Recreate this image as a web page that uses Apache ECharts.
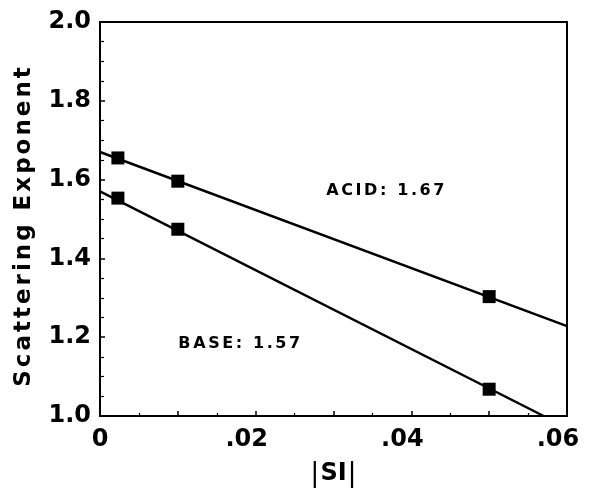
<!DOCTYPE html>
<html><head><meta charset="utf-8">
<script src="https://cdn.jsdelivr.net/npm/echarts@6/dist/echarts.min.js"></script>
<style>html,body{margin:0;padding:0;background:#fff}#c{width:589px;height:493px}</style>
</head><body><div id="c"></div>
<script>
// ---- data ----
const xTickValues = [0, 0.02, 0.04, 0.06];
const xTickLabels = ['0', '.02', '.04', '.06'];
const yTickValues = [1.0, 1.2, 1.4, 1.6, 1.8, 2.0];
const yTickLabels = ['1.0', '1.2', '1.4', '1.6', '1.8', '2.0'];
const acidX = [0.0023, 0.010, 0.050];
const acidY = [1.655, 1.596, 1.303];
const baseX = [0.0023, 0.010, 0.050];
const baseY = [1.553, 1.474, 1.068];
const acidFitX = [0, 0.060];
const acidFitY = [1.670, 1.228];
const baseFitX = [0, 0.057];
const baseFitY = [1.570, 1.000];
const noteTexts = ['ACID: 1.67', 'BASE: 1.57'];
const noteX = [0.0289, 0.0099];
const noteY = [1.571, 1.183];
const xName = '|SI|';
const yName = 'Scattering Exponent';

// ---- helpers ----
const zip = (a, b) => a.map((v, i) => [v, b[i]]);
const spaced = (s, st) => s.split('').map(c => '{' + st + '|' + c + '}').join('');
const FONT = 'DejaVu Sans';

const chart = echarts.init(document.getElementById('c'), null, {renderer: 'canvas'});
chart.setOption({
  animation: false,
  backgroundColor: '#fff',
  grid: {left: 100, right: 22, top: 22, bottom: 77, show: true, borderColor: '#000', borderWidth: 2, containLabel: false},
  xAxis: {
    type: 'value', min: 0, max: 0.06, interval: 0.01,
    name: '{b|' + xName[0] + '}{s|' + xName.slice(1, 3) + '}{b|' + xName[3] + '}',
    nameLocation: 'middle', nameGap: 44,
    nameTextStyle: {rich: {
      b: {fontFamily: FONT, fontSize: 27, fontWeight: 'normal', color: '#000'},
      s: {fontFamily: FONT, fontSize: 24, fontWeight: 'bold', color: '#000', padding: [0, 1]}
    }},
    axisLine: {show: true, lineStyle: {color: '#000', width: 2}},
    axisTick: {show: true, inside: true, length: 5, lineStyle: {color: '#000', width: 1.5}},
    minorTick: {show: true, splitNumber: 2, length: 3, lineStyle: {color: '#000', width: 1.2}},
    splitLine: {show: false},
    axisLabel: {
      margin: 12, color: '#000', fontFamily: FONT, fontWeight: 'bold', fontSize: 24,
      formatter: v => {
        const i = xTickValues.findIndex(t => Math.abs(t - v) < 1e-9);
        if (i < 0) return '';
        return i === 0 ? xTickLabels[i] : '{o|' + xTickLabels[i] + '}';
      },
      rich: {o: {fontFamily: FONT, fontWeight: 'bold', fontSize: 24, color: '#000', padding: [0, 18, 0, 0]}}
    }
  },
  yAxis: {
    type: 'value', min: 1.0, max: 2.0, interval: 0.2,
    name: spaced(yName, 'n'),
    nameLocation: 'middle', nameGap: 64, nameRotate: 90,
    nameTextStyle: {padding: [0, 16, 0, 0], rich: {
      n: {fontFamily: FONT, fontSize: 23, fontWeight: 'bold', color: '#000', padding: [0, 1.5]}
    }},
    axisLine: {show: true, lineStyle: {color: '#000', width: 2}},
    axisTick: {show: true, inside: true, length: 5, lineStyle: {color: '#000', width: 1.5}},
    minorTick: {show: true, splitNumber: 4, length: 4, lineStyle: {color: '#000', width: 1.2}},
    splitLine: {show: false},
    axisLabel: {
      margin: 9, color: '#000', fontFamily: FONT, fontWeight: 'bold', fontSize: 24,
      formatter: v => {
        const i = yTickValues.findIndex(t => Math.abs(t - v) < 1e-9);
        return i < 0 ? '' : yTickLabels[i];
      }
    }
  },
  series: [
    {type: 'line', data: zip(acidFitX, acidFitY), symbol: 'none', lineStyle: {color: '#000', width: 2.5}, z: 2},
    {type: 'line', data: zip(baseFitX, baseFitY), symbol: 'none', lineStyle: {color: '#000', width: 2.5}, z: 2},
    {type: 'scatter', data: zip(acidX, acidY), symbol: 'rect', symbolSize: 13, itemStyle: {color: '#000', opacity: 1}, z: 3},
    {type: 'scatter', data: zip(baseX, baseY), symbol: 'rect', symbolSize: 13, itemStyle: {color: '#000', opacity: 1}, z: 3},
    {type: 'scatter', symbolSize: 0, silent: true, z: 4,
     data: zip(noteX, noteY),
     itemStyle: {color: '#000', opacity: 1},
     label: {show: true, position: 'right', distance: 0, color: '#000',
       fontFamily: FONT, fontSize: 16, fontWeight: 'bold',
       formatter: p => spaced(noteTexts[p.dataIndex], 't'),
       rich: {t: {fontFamily: FONT, fontSize: 16, fontWeight: 'bold', color: '#000', padding: [0, 1.3]}}}
    }
  ]
});
</script></body></html>
